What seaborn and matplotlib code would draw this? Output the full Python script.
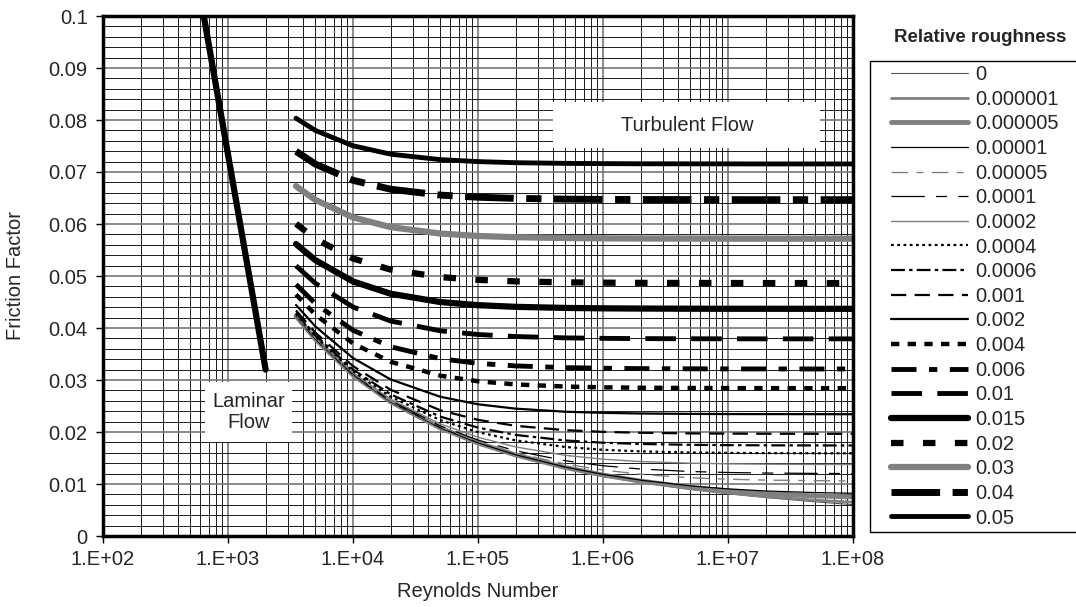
"""Friction factor vs Reynolds number chart (Moody style)."""
import numpy as np
import matplotlib
matplotlib.use("Agg")
import matplotlib.pyplot as plt
import matplotlib.ticker as mticker
from matplotlib.patches import Rectangle
from matplotlib.legend_handler import HandlerLine2D
from matplotlib.lines import Line2D
import seaborn as sns

# Reynolds numbers of the turbulent curves
re_turb = [3500, 5000, 1e4, 2e4, 5e4, 1e5, 2e5, 5e5, 1e6, 2e6, 5e6, 1e7, 2e7, 5e7, 1e8]

# friction factor
f_0 = [0.0423, 0.03785, 0.03097, 0.02581, 0.02076, 0.01786, 0.01553, 0.01309, 0.01161, 0.01036, 0.0090, 0.00814, 0.0074, 0.00657, 0.00603]
f_000001 = [0.0423, 0.03785, 0.03097, 0.02581, 0.02076, 0.01786, 0.01554, 0.01311, 0.01163, 0.0104, 0.00907, 0.00826, 0.00758, 0.00689, 0.00651]
f_000005 = [0.0423, 0.03785, 0.03097, 0.02581, 0.02078, 0.01789, 0.01558, 0.01317, 0.01173, 0.01056, 0.00934, 0.00866, 0.00815, 0.00771, 0.00752]
f_00001 = [0.0423, 0.03785, 0.03097, 0.02581, 0.0208, 0.01792, 0.01562, 0.01325, 0.01185, 0.01074, 0.00964, 0.00906, 0.00866, 0.00835, 0.00822]
f_00005 = [0.04236, 0.03791, 0.03106, 0.02594, 0.02097, 0.01816, 0.01598, 0.01384, 0.01269, 0.01187, 0.0112, 0.01092, 0.01075, 0.01064, 0.01059]
f_0001 = [0.04241, 0.03797, 0.03115, 0.02606, 0.02117, 0.01845, 0.01639, 0.01447, 0.01351, 0.01288, 0.0124, 0.01221, 0.01211, 0.01204, 0.01201]
f_0002 = [0.04252, 0.0381, 0.03132, 0.02631, 0.02155, 0.01899, 0.01713, 0.01551, 0.01477, 0.01432, 0.014, 0.01388, 0.01381, 0.01376, 0.01375]
f_0004 = [0.04274, 0.03835, 0.03167, 0.02678, 0.02228, 0.01997, 0.01839, 0.01712, 0.01658, 0.01627, 0.01606, 0.01598, 0.01594, 0.01591, 0.0159]
f_0006 = [0.04295, 0.03861, 0.03201, 0.02724, 0.02295, 0.02084, 0.01944, 0.01837, 0.01794, 0.0177, 0.01753, 0.01747, 0.01744, 0.01742, 0.01741]
f_001 = [0.04338, 0.0391, 0.03267, 0.02812, 0.02418, 0.02234, 0.02119, 0.02035, 0.02003, 0.01985, 0.01973, 0.01969, 0.01966, 0.01965, 0.01964]
f_002 = [0.04443, 0.0403, 0.03422, 0.03011, 0.02677, 0.02533, 0.02449, 0.0239, 0.02368, 0.02356, 0.02348, 0.02345, 0.02344, 0.02343, 0.02342]
f_004 = [0.04645, 0.04257, 0.03704, 0.0335, 0.03083, 0.02975, 0.02915, 0.02874, 0.02859, 0.02851, 0.02846, 0.02844, 0.02843, 0.02842, 0.02842]
f_006 = [0.04837, 0.04469, 0.03956, 0.0364, 0.0341, 0.0332, 0.03271, 0.03238, 0.03226, 0.03219, 0.03215, 0.03213, 0.03213, 0.03212, 0.03212]
f_01 = [0.05197, 0.0486, 0.04404, 0.04134, 0.03946, 0.03875, 0.03836, 0.0381, 0.03801, 0.03796, 0.03793, 0.03792, 0.03791, 0.03791, 0.03791]
f_015 = [0.05615, 0.05304, 0.04895, 0.04659, 0.04499, 0.04439, 0.04407, 0.04386, 0.04378, 0.04374, 0.04371, 0.0437, 0.0437, 0.04369, 0.04369]
f_02 = [0.06005, 0.05714, 0.05336, 0.05123, 0.04979, 0.04926, 0.04897, 0.04878, 0.04872, 0.04868, 0.04866, 0.04865, 0.04864, 0.04864, 0.04864]
f_03 = [0.06728, 0.06464, 0.06127, 0.0594, 0.05816, 0.0577, 0.05746, 0.0573, 0.05724, 0.05721, 0.05719, 0.05718, 0.05718, 0.05717, 0.05717]
f_04 = [0.07399, 0.07152, 0.0684, 0.06669, 0.06556, 0.06515, 0.06493, 0.06478, 0.06473, 0.0647, 0.06469, 0.06468, 0.06467, 0.06467, 0.06467]
f_05 = [0.08034, 0.07799, 0.07504, 0.07343, 0.07238, 0.072, 0.07179, 0.07166, 0.07161, 0.07158, 0.07157, 0.07156, 0.07155, 0.07155, 0.07155]

roughness_labels = ["0", "0.000001", "0.000005", "0.00001", "0.00005", "0.0001", "0.0002",
                    "0.0004", "0.0006", "0.001", "0.002", "0.004", "0.006", "0.01", "0.015",
                    "0.02", "0.03", "0.04", "0.05"]
curves = [f_0, f_000001, f_000005, f_00001, f_00005, f_0001, f_0002, f_0004, f_0006, f_001,
          f_002, f_004, f_006, f_01, f_015, f_02, f_03, f_04, f_05]

# laminar flow line
re_lam = [640, 2000]
f_lam = [0.1, 0.032]

# axis ticks
x_ticks = [1e2, 1e3, 1e4, 1e5, 1e6, 1e7, 1e8]
x_ticklabels = ["1.E+02", "1.E+03", "1.E+04", "1.E+05", "1.E+06", "1.E+07", "1.E+08"]

GRAY = "#808080"
FS = 14.5
# (colour, width, linestyle) for each curve, dashes in points
styles = [
    ("#555555", 0.8, "-"),
    (GRAY, 2.0, "-"),
    (GRAY, 3.5, "-"),
    ("black", 0.9, "-"),
    (GRAY, 1.0, (0, (12, 6, 5, 6))),
    ("black", 0.9, (0, (24, 8, 8, 8))),
    (GRAY, 1.0, "-"),
    ("black", 1.6, (0, (2, 2.5))),
    ("black", 1.6, (0, (10, 3, 2.5, 3))),
    ("black", 1.6, (0, (11, 6))),
    ("black", 1.6, "-"),
    ("black", 3.2, (0, (6, 6))),
    ("black", 3.5, (0, (18, 9, 6, 9))),
    ("black", 3.5, (0, (22, 11))),
    ("black", 4.5, "-"),
    ("black", 4.5, (0, (9, 14))),
    (GRAY, 4.5, "-"),
    ("black", 5.0, (0, (35, 9, 11, 9))),
    ("black", 3.5, "-"),
]

sns.set_style("white")
plt.rcParams["font.family"] = ["Liberation Sans", "DejaVu Sans"]
plt.rcParams["lines.scale_dashes"] = False

fig = plt.figure(figsize=(10.76, 6.07), dpi=100)
ax = fig.add_axes([103 / 1076, 1 - 536 / 607, 750 / 1076, 520 / 607])
ax.set_xscale("log")

for vals, lab, (c, lw, ls) in zip(curves, roughness_labels, styles):
    sns.lineplot(x=re_turb, y=vals, ax=ax, color=c, linewidth=lw, linestyle=ls,
                 label=lab, errorbar=None, solid_capstyle="round", zorder=3)

sns.lineplot(x=re_lam, y=f_lam, ax=ax, color="black", linewidth=4.5,
             errorbar=None, solid_capstyle="round", zorder=3)

ax.set_xlim(1e2, 1e8)
ax.set_ylim(0, 0.1)
ax.xaxis.set_major_locator(mticker.FixedLocator(x_ticks))
ax.xaxis.set_major_formatter(mticker.FixedFormatter(x_ticklabels))
ax.xaxis.set_minor_locator(mticker.LogLocator(base=10, subs=np.arange(2, 10), numticks=100))
ax.xaxis.set_minor_formatter(mticker.NullFormatter())
ax.yaxis.set_major_locator(mticker.MultipleLocator(0.01))
ax.yaxis.set_minor_locator(mticker.MultipleLocator(0.002))
ax.yaxis.set_major_formatter(mticker.FuncFormatter(lambda v, p: "%g" % round(v, 3)))

ax.grid(which="major", color="#777777", linewidth=1.2, zorder=1)
ax.grid(which="minor", color="#1a1a1a", linewidth=0.7, zorder=1)
ax.set_axisbelow(True)
ax.tick_params(which="major", direction="out", length=5, width=1, labelsize=FS,
               bottom=True, left=True, color="black")
ax.tick_params(axis="x", which="major", pad=5)
ax.tick_params(axis="y", which="major", pad=6)
ax.tick_params(which="minor", length=0)
for sp in ax.spines.values():
    sp.set_linewidth(2.5)
    sp.set_color("black")
    sp.set_zorder(5)

ax.set_xlabel("Reynolds Number", fontsize=FS)
ax.set_ylabel("Friction Factor", fontsize=FS)
ax.xaxis.set_label_coords(0.5, -0.088)
ax.yaxis.set_label_coords(-0.104, 0.5)

# annotation boxes
ax.add_patch(Rectangle((0.6, 0.746), 0.356, 0.0885, transform=ax.transAxes,
                       facecolor="white", edgecolor="none", zorder=4))
ax.text(0.779, 0.79, "Turbulent Flow", transform=ax.transAxes, ha="center",
        va="center", fontsize=FS, zorder=6)
ax.add_patch(Rectangle((0.136, 0.181), 0.116, 0.115, transform=ax.transAxes,
                       facecolor="white", edgecolor="none", zorder=4))
ax.text(0.194, 0.238, "Laminar\nFlow", transform=ax.transAxes, ha="center",
        va="center", fontsize=FS, linespacing=1.1, zorder=6)

# legend box runs past the right edge of the figure, as in the original
handles, labels = ax.get_legend_handles_labels()
leg = ax.legend(handles, labels, loc="upper left",
                bbox_to_anchor=(870 / 1076, 1 - 61 / 607, 240 / 1076, 0),
                bbox_transform=fig.transFigure, mode="expand", borderaxespad=0,
                fontsize=FS, frameon=True, fancybox=False, edgecolor="black",
                framealpha=1, handlelength=4.65, handletextpad=0.4,
                labelspacing=0.28, borderpad=0.2,
                handler_map={Line2D: HandlerLine2D(xpad=0.85)})
leg.get_frame().set_linewidth(1.0)
fig.text(980 / 1076, 1 - 37 / 607, "Relative roughness", ha="center", va="center",
         fontsize=13.5, fontweight="bold")

fig.savefig("out.png", dpi=100)
plt.close(fig)
